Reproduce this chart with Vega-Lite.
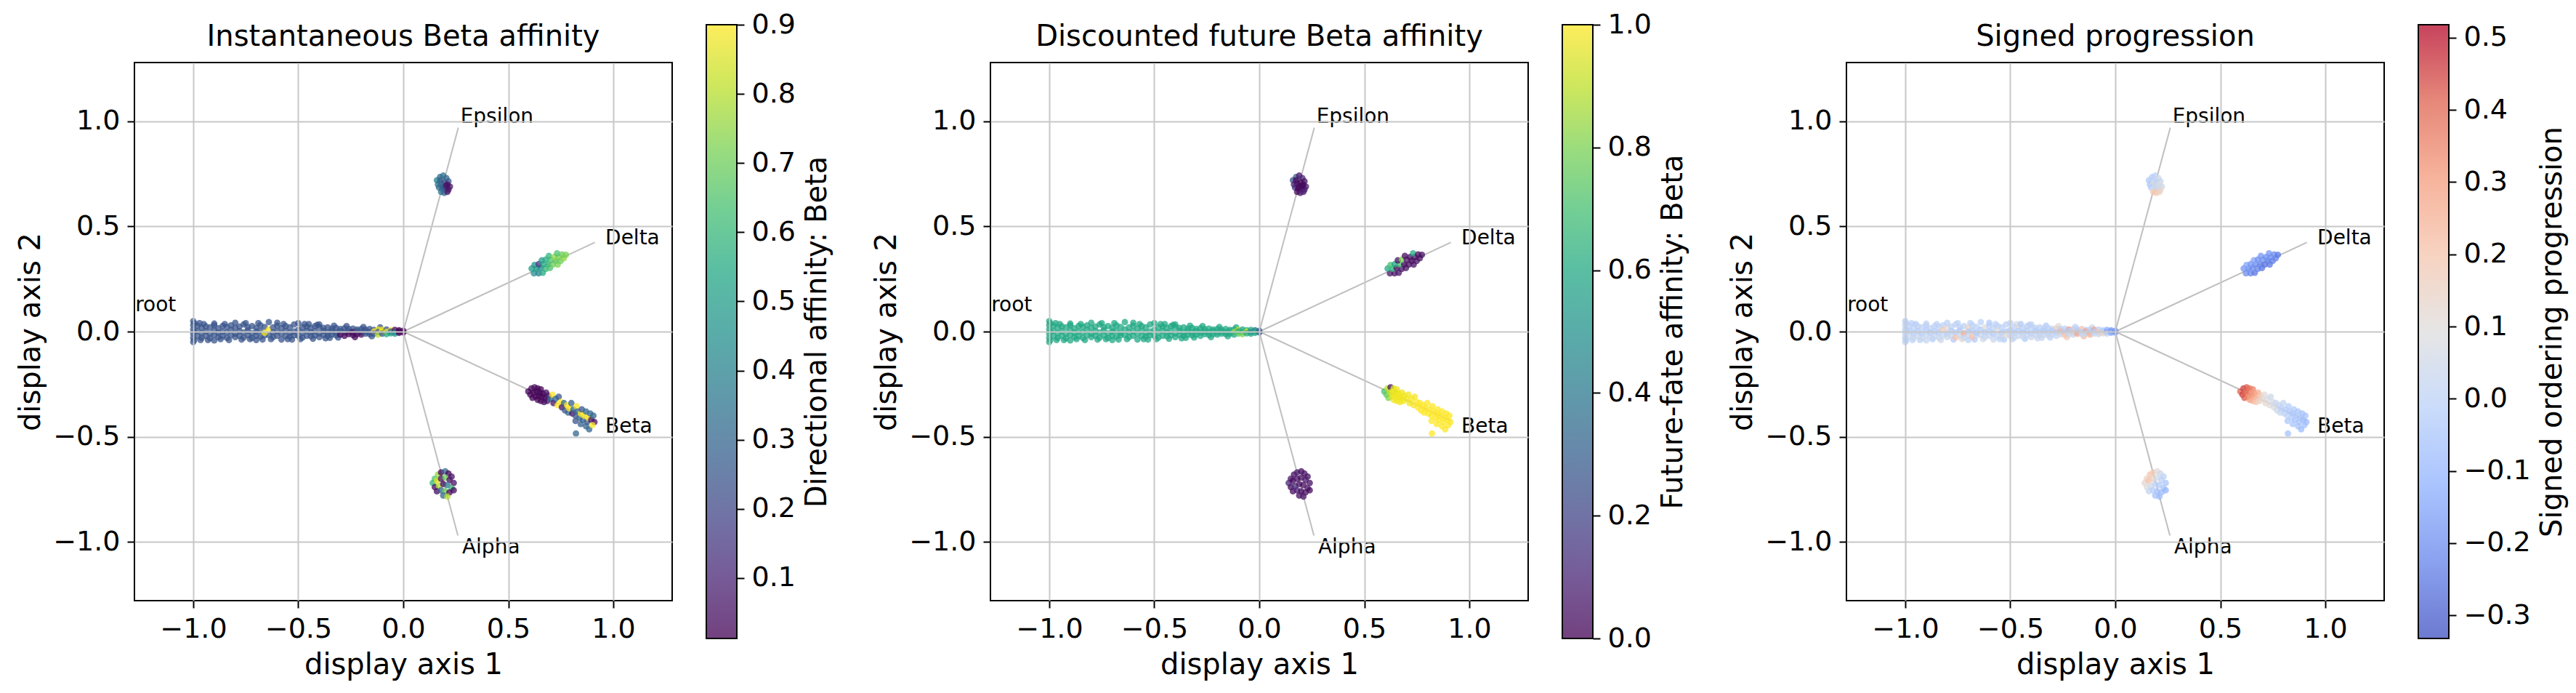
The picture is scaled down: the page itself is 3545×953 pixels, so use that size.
{
  "$schema": "https://vega.github.io/schema/vega-lite/v6.json",
  "background": "white",
  "padding": {"left": 21, "top": 15, "right": 10, "bottom": 5},
  "config": {
    "font": "DejaVu Sans",
    "view": {"stroke": null},
    "axis": {
      "labelFont": "DejaVu Sans", "labelFontSize": 38, "labelColor": "black",
      "tickColor": "black", "tickWidth": 2, "tickSize": 10, "labelPadding": 10,
      "titleFont": "DejaVu Sans", "titleFontSize": 40, "titleFontWeight": "normal",
      "titleColor": "black", "titlePadding": 10, "domain": false,
      "gridColor": "#c8c8c8", "gridWidth": 2, "labelFlush": false, "labelOverlap": false
    },
    "title": {"font": "DejaVu Sans", "fontSize": 40, "fontWeight": "normal", "color": "black", "offset": 15, "baseline": "alphabetic"}
  },
  "datasets": {
    "branches": [
      {"x0": 0, "y0": 0, "x1": 0.262, "y1": 0.97},
      {"x0": 0, "y0": 0, "x1": 0.912, "y1": 0.424},
      {"x0": 0, "y0": 0, "x1": 0.912, "y1": -0.424},
      {"x0": 0, "y0": 0, "x1": 0.26, "y1": -0.97}
    ],
    "nodes": [
      {"label": "root", "x": -1.276, "y": 0.096},
      {"label": "Epsilon", "x": 0.272, "y": 0.993},
      {"label": "Delta", "x": 0.962, "y": 0.415},
      {"label": "Beta", "x": 0.962, "y": -0.48},
      {"label": "Alpha", "x": 0.28, "y": -1.054}
    ],
    "cells": [
      {"x":-1.0,"y":0.05,"a":0.25,"f":0.6,"s":-0.02},
      {"x":-1.0,"y":0.03,"a":0.25,"f":0.6,"s":0},
      {"x":-1.0,"y":0.01,"a":0.25,"f":0.6,"s":-0.02},
      {"x":-1.0,"y":-0.01,"a":0.25,"f":0.6,"s":0},
      {"x":-1.0,"y":-0.03,"a":0.25,"f":0.6,"s":-0.02},
      {"x":-1.0,"y":-0.05,"a":0.25,"f":0.6,"s":0},
      {"x":-0.995,"y":0.04,"a":0.25,"f":0.6,"s":0},
      {"x":-0.995,"y":-0.04,"a":0.25,"f":0.6,"s":-0.02},
      {"x":-0.995,"y":0.0,"a":0.25,"f":0.6,"s":0.02},
      {"x":-0.97,"y":0.04,"a":0.25,"f":0.6,"s":0},
      {"x":-0.965,"y":-0.04,"a":0.25,"f":0.6,"s":0},
      {"x":-0.95,"y":0.036,"a":0.25,"f":0.6,"s":-0.03},
      {"x":-0.93,"y":-0.04,"a":0.25,"f":0.6,"s":0},
      {"x":-0.9,"y":0.038,"a":0.25,"f":0.6,"s":0.02},
      {"x":-0.87,"y":-0.036,"a":0.25,"f":0.6,"s":-0.03},
      {"x":-0.85,"y":0.036,"a":0.25,"f":0.6,"s":0},
      {"x":-0.83,"y":-0.04,"a":0.25,"f":0.6,"s":0.05},
      {"x":-0.77,"y":-0.038,"a":0.25,"f":0.6,"s":-0.03},
      {"x":-0.75,"y":0.04,"a":0.25,"f":0.6,"s":0},
      {"x":-0.73,"y":-0.036,"a":0.25,"f":0.6,"s":0.12},
      {"x":-0.69,"y":0.04,"a":0.25,"f":0.6,"s":0},
      {"x":-0.67,"y":-0.038,"a":0.25,"f":0.6,"s":-0.03},
      {"x":-0.63,"y":-0.036,"a":0.25,"f":0.6,"s":0.05},
      {"x":-0.57,"y":0.036,"a":0.25,"f":0.6,"s":0},
      {"x":-0.53,"y":-0.038,"a":0.25,"f":0.6,"s":-0.03},
      {"x":-0.49,"y":-0.036,"a":0.25,"f":0.6,"s":0},
      {"x":-0.47,"y":0.036,"a":0.25,"f":0.6,"s":0.08},
      {"x":-0.43,"y":-0.034,"a":0.25,"f":0.6,"s":-0.03},
      {"x":-0.41,"y":0.032,"a":0.25,"f":0.6,"s":0},
      {"x":-0.37,"y":-0.032,"a":0.25,"f":0.6,"s":0.03},
      {"x":-0.33,"y":0.028,"a":0.25,"f":0.6,"s":-0.03},
      {"x":-0.31,"y":-0.028,"a":0.25,"f":0.6,"s":0},
      {"x":-0.27,"y":0.026,"a":0.25,"f":0.6,"s":0.1},
      {"x":-0.23,"y":-0.026,"a":0.03,"f":0.6,"s":0.18},
      {"x":-0.19,"y":0.022,"a":0.25,"f":0.6,"s":0},
      {"x":-0.15,"y":-0.022,"a":0.25,"f":0.6,"s":0.22},
      {"x":-0.11,"y":0.02,"a":0.25,"f":0.6,"s":0.05},
      {"x":-0.98,"y":0.028,"a":0.25,"f":0.6,"s":0},
      {"x":-0.98,"y":0.004,"a":0.25,"f":0.6,"s":-0.03},
      {"x":-0.98,"y":-0.022,"a":0.25,"f":0.6,"s":0.03},
      {"x":-0.96,"y":0.018,"a":0.25,"f":0.6,"s":0},
      {"x":-0.96,"y":-0.008,"a":0.25,"f":0.6,"s":-0.03},
      {"x":-0.96,"y":-0.03,"a":0.25,"f":0.6,"s":0.03},
      {"x":-0.94,"y":0.025,"a":0.25,"f":0.6,"s":0},
      {"x":-0.94,"y":0.002,"a":0.25,"f":0.6,"s":-0.03},
      {"x":-0.94,"y":-0.02,"a":0.25,"f":0.6,"s":0.03},
      {"x":-0.92,"y":0.02,"a":0.25,"f":0.6,"s":0},
      {"x":-0.92,"y":-0.01,"a":0.25,"f":0.6,"s":-0.03},
      {"x":-0.92,"y":-0.032,"a":0.25,"f":0.6,"s":0.03},
      {"x":-0.9,"y":0.03,"a":0.25,"f":0.6,"s":0},
      {"x":-0.9,"y":0.006,"a":0.25,"f":0.6,"s":-0.03},
      {"x":-0.9,"y":-0.016,"a":0.25,"f":0.6,"s":0.03},
      {"x":-0.9,"y":-0.042,"a":0.25,"f":0.6,"s":0.03},
      {"x":-0.88,"y":0.016,"a":0.25,"f":0.6,"s":0},
      {"x":-0.88,"y":-0.006,"a":0.25,"f":0.6,"s":-0.03},
      {"x":-0.88,"y":-0.026,"a":0.25,"f":0.6,"s":0.03},
      {"x":-0.86,"y":0.026,"a":0.25,"f":0.6,"s":0},
      {"x":-0.86,"y":0.0,"a":0.25,"f":0.6,"s":-0.03},
      {"x":-0.86,"y":-0.022,"a":0.25,"f":0.6,"s":0.03},
      {"x":-0.84,"y":0.022,"a":0.25,"f":0.6,"s":0},
      {"x":-0.84,"y":-0.004,"a":0.25,"f":0.6,"s":-0.03},
      {"x":-0.84,"y":-0.03,"a":0.25,"f":0.6,"s":0.03},
      {"x":-0.82,"y":0.03,"a":0.25,"f":0.6,"s":0},
      {"x":-0.82,"y":0.008,"a":0.25,"f":0.6,"s":0.18},
      {"x":-0.82,"y":-0.018,"a":0.25,"f":0.6,"s":0.03},
      {"x":-0.8,"y":0.018,"a":0.25,"f":0.6,"s":0.12},
      {"x":-0.8,"y":-0.01,"a":0.25,"f":0.6,"s":-0.03},
      {"x":-0.8,"y":-0.026,"a":0.25,"f":0.6,"s":0.03},
      {"x":-0.8,"y":0.042,"a":0.25,"f":0.6,"s":0},
      {"x":-0.78,"y":0.024,"a":0.25,"f":0.6,"s":0},
      {"x":-0.78,"y":0.002,"a":0.25,"f":0.6,"s":-0.03},
      {"x":-0.78,"y":-0.02,"a":0.25,"f":0.6,"s":0.03},
      {"x":-0.76,"y":0.034,"a":0.25,"f":0.6,"s":0},
      {"x":-0.76,"y":-0.004,"a":0.25,"f":0.6,"s":-0.03},
      {"x":-0.76,"y":-0.028,"a":0.25,"f":0.6,"s":0.2},
      {"x":-0.74,"y":0.02,"a":0.25,"f":0.6,"s":0},
      {"x":-0.74,"y":0.006,"a":0.25,"f":0.6,"s":-0.03},
      {"x":-0.74,"y":-0.018,"a":0.25,"f":0.6,"s":0.03},
      {"x":-0.72,"y":0.026,"a":0.25,"f":0.6,"s":0},
      {"x":-0.72,"y":-0.008,"a":0.25,"f":0.6,"s":0.28},
      {"x":-0.72,"y":-0.03,"a":0.25,"f":0.6,"s":0.03},
      {"x":-0.7,"y":0.018,"a":0.25,"f":0.6,"s":0.15},
      {"x":-0.7,"y":0.0,"a":0.25,"f":0.6,"s":-0.03},
      {"x":-0.7,"y":-0.02,"a":0.25,"f":0.6,"s":0.03},
      {"x":-0.7,"y":-0.04,"a":0.25,"f":0.6,"s":0},
      {"x":-0.68,"y":0.03,"a":0.25,"f":0.6,"s":0},
      {"x":-0.68,"y":0.004,"a":0.25,"f":0.6,"s":-0.03},
      {"x":-0.68,"y":-0.024,"a":0.25,"f":0.6,"s":0.22},
      {"x":-0.66,"y":0.022,"a":0.25,"f":0.6,"s":0},
      {"x":-0.66,"y":-0.018,"a":0.25,"f":0.6,"s":0.03},
      {"x":-0.64,"y":0.045,"a":0.25,"f":0.6,"s":0},
      {"x":-0.64,"y":-0.016,"a":0.25,"f":0.6,"s":0.03},
      {"x":-0.66,"y":-0.006,"a":0.88,"f":0.6,"s":-0.03},
      {"x":-0.64,"y":0.01,"a":0.9,"f":0.6,"s":-0.03},
      {"x":-0.62,"y":0.02,"a":0.25,"f":0.6,"s":0.1},
      {"x":-0.62,"y":-0.004,"a":0.25,"f":0.6,"s":-0.03},
      {"x":-0.62,"y":-0.026,"a":0.25,"f":0.6,"s":0.03},
      {"x":-0.6,"y":0.028,"a":0.25,"f":0.6,"s":0},
      {"x":-0.6,"y":0.002,"a":0.25,"f":0.6,"s":-0.03},
      {"x":-0.6,"y":-0.02,"a":0.25,"f":0.6,"s":0.03},
      {"x":-0.6,"y":0.042,"a":0.25,"f":0.6,"s":-0.03},
      {"x":-0.58,"y":0.016,"a":0.25,"f":0.6,"s":0},
      {"x":-0.58,"y":-0.01,"a":0.25,"f":0.6,"s":-0.03},
      {"x":-0.58,"y":-0.038,"a":0.25,"f":0.6,"s":0.03},
      {"x":-0.56,"y":0.026,"a":0.25,"f":0.6,"s":0},
      {"x":-0.56,"y":0.004,"a":0.25,"f":0.6,"s":0.08},
      {"x":-0.56,"y":-0.022,"a":0.25,"f":0.6,"s":0.03},
      {"x":-0.55,"y":-0.036,"a":0.25,"f":0.6,"s":0},
      {"x":-0.54,"y":0.02,"a":0.25,"f":0.6,"s":0},
      {"x":-0.54,"y":-0.006,"a":0.25,"f":0.6,"s":-0.03},
      {"x":-0.54,"y":-0.024,"a":0.25,"f":0.6,"s":0.03},
      {"x":-0.52,"y":0.034,"a":0.25,"f":0.6,"s":0},
      {"x":-0.52,"y":0.0,"a":0.25,"f":0.6,"s":-0.03},
      {"x":-0.52,"y":-0.018,"a":0.25,"f":0.6,"s":0.1},
      {"x":-0.5,"y":0.04,"a":0.25,"f":0.6,"s":0},
      {"x":-0.5,"y":0.008,"a":0.25,"f":0.6,"s":-0.03},
      {"x":-0.5,"y":-0.02,"a":0.25,"f":0.6,"s":0.03},
      {"x":-0.48,"y":0.02,"a":0.25,"f":0.6,"s":0},
      {"x":-0.48,"y":-0.006,"a":0.25,"f":0.6,"s":-0.03},
      {"x":-0.48,"y":-0.028,"a":0.25,"f":0.6,"s":0.03},
      {"x":-0.46,"y":0.024,"a":0.25,"f":0.6,"s":0.1},
      {"x":-0.46,"y":0.004,"a":0.25,"f":0.6,"s":-0.03},
      {"x":-0.46,"y":-0.02,"a":0.25,"f":0.6,"s":0.03},
      {"x":-0.45,"y":0.036,"a":0.25,"f":0.6,"s":-0.03},
      {"x":-0.44,"y":0.018,"a":0.25,"f":0.6,"s":0},
      {"x":-0.44,"y":-0.004,"a":0.25,"f":0.6,"s":-0.03},
      {"x":-0.44,"y":-0.022,"a":0.25,"f":0.6,"s":0.03},
      {"x":-0.42,"y":0.026,"a":0.25,"f":0.6,"s":0},
      {"x":-0.42,"y":0.002,"a":0.25,"f":0.6,"s":-0.03},
      {"x":-0.42,"y":-0.018,"a":0.25,"f":0.6,"s":0.03},
      {"x":-0.4,"y":0.022,"a":0.25,"f":0.6,"s":0},
      {"x":-0.4,"y":-0.008,"a":0.25,"f":0.6,"s":-0.03},
      {"x":-0.4,"y":-0.026,"a":0.25,"f":0.6,"s":0.03},
      {"x":-0.4,"y":0.034,"a":0.25,"f":0.6,"s":0},
      {"x":-0.38,"y":0.018,"a":0.25,"f":0.6,"s":0},
      {"x":-0.38,"y":0.004,"a":0.25,"f":0.6,"s":-0.03},
      {"x":-0.38,"y":-0.016,"a":0.25,"f":0.6,"s":0.03},
      {"x":-0.36,"y":0.02,"a":0.25,"f":0.6,"s":0},
      {"x":-0.36,"y":-0.004,"a":0.25,"f":0.6,"s":-0.03},
      {"x":-0.36,"y":-0.02,"a":0.25,"f":0.6,"s":0.03},
      {"x":-0.35,"y":-0.03,"a":0.25,"f":0.6,"s":0.03},
      {"x":-0.34,"y":0.014,"a":0.25,"f":0.6,"s":0},
      {"x":-0.34,"y":0.002,"a":0.25,"f":0.6,"s":-0.03},
      {"x":-0.34,"y":-0.014,"a":0.25,"f":0.6,"s":0.03},
      {"x":-0.32,"y":0.018,"a":0.25,"f":0.6,"s":0},
      {"x":-0.32,"y":-0.004,"a":0.25,"f":0.6,"s":-0.03},
      {"x":-0.32,"y":-0.018,"a":0.25,"f":0.6,"s":0.03},
      {"x":-0.3,"y":0.012,"a":0.25,"f":0.6,"s":0},
      {"x":-0.3,"y":0.002,"a":0.25,"f":0.6,"s":-0.03},
      {"x":-0.3,"y":-0.014,"a":0.03,"f":0.6,"s":0.03},
      {"x":-0.28,"y":0.016,"a":0.25,"f":0.6,"s":0.15},
      {"x":-0.28,"y":-0.004,"a":0.25,"f":0.6,"s":-0.03},
      {"x":-0.28,"y":-0.02,"a":0.03,"f":0.6,"s":0.03},
      {"x":-0.26,"y":0.012,"a":0.25,"f":0.6,"s":0},
      {"x":-0.26,"y":0.0,"a":0.25,"f":0.6,"s":0.25},
      {"x":-0.26,"y":-0.012,"a":0.02,"f":0.6,"s":0.03},
      {"x":-0.24,"y":0.014,"a":0.25,"f":0.6,"s":0},
      {"x":-0.24,"y":-0.002,"a":0.05,"f":0.6,"s":-0.03},
      {"x":-0.24,"y":-0.016,"a":0.03,"f":0.6,"s":0.2},
      {"x":-0.22,"y":0.01,"a":0.25,"f":0.6,"s":0.3},
      {"x":-0.22,"y":0.002,"a":0.25,"f":0.6,"s":-0.03},
      {"x":-0.22,"y":-0.012,"a":0.03,"f":0.6,"s":0.03},
      {"x":-0.2,"y":0.012,"a":0.25,"f":0.6,"s":0},
      {"x":-0.2,"y":-0.004,"a":0.25,"f":0.6,"s":0.22},
      {"x":-0.2,"y":-0.014,"a":0.04,"f":0.6,"s":0.03},
      {"x":-0.18,"y":0.01,"a":0.25,"f":0.6,"s":0},
      {"x":-0.18,"y":0.0,"a":0.25,"f":0.6,"s":-0.03},
      {"x":-0.18,"y":-0.01,"a":0.25,"f":0.6,"s":0.28},
      {"x":-0.16,"y":0.012,"a":0.25,"f":0.6,"s":0.2},
      {"x":-0.16,"y":-0.002,"a":0.25,"f":0.6,"s":-0.03},
      {"x":-0.16,"y":-0.012,"a":0.25,"f":0.6,"s":0.03},
      {"x":-0.14,"y":0.008,"a":0.25,"f":0.6,"s":0},
      {"x":-0.14,"y":0.0,"a":0.9,"f":0.6,"s":0.3},
      {"x":-0.14,"y":-0.01,"a":0.25,"f":0.6,"s":0.03},
      {"x":-0.12,"y":0.01,"a":0.88,"f":0.6,"s":0},
      {"x":-0.12,"y":-0.002,"a":0.25,"f":0.85,"s":-0.03},
      {"x":-0.12,"y":-0.014,"a":0.8,"f":0.6,"s":0.25},
      {"x":-0.1,"y":0.008,"a":0.9,"f":0.9,"s":0.3},
      {"x":-0.1,"y":0.0,"a":0.85,"f":0.6,"s":-0.03},
      {"x":-0.1,"y":-0.01,"a":0.25,"f":0.75,"s":0.03},
      {"x":-0.08,"y":0.01,"a":0.25,"f":0.6,"s":0},
      {"x":-0.08,"y":-0.002,"a":0.9,"f":0.6,"s":0.2},
      {"x":-0.08,"y":-0.012,"a":0.55,"f":0.8,"s":0.03},
      {"x":-0.06,"y":0.006,"a":0.9,"f":0.6,"s":0},
      {"x":-0.06,"y":0.0,"a":0.25,"f":0.92,"s":-0.03},
      {"x":-0.06,"y":-0.008,"a":0.5,"f":0.6,"s":0.15},
      {"x":-0.04,"y":0.008,"a":0.02,"f":0.6,"s":-0.12},
      {"x":-0.04,"y":-0.002,"a":0.25,"f":0.45,"s":-0.15},
      {"x":-0.04,"y":-0.01,"a":0.5,"f":0.6,"s":0.03},
      {"x":-0.02,"y":0.006,"a":0.02,"f":0.35,"s":-0.15},
      {"x":-0.02,"y":0.0,"a":0.02,"f":0.6,"s":-0.18},
      {"x":-0.02,"y":-0.006,"a":0.02,"f":0.6,"s":-0.12},
      {"x":0.0,"y":0.004,"a":0.02,"f":0.3,"s":-0.18},
      {"x":0.0,"y":-0.004,"a":0.02,"f":0.3,"s":-0.18},

      {"x":0.175,"y":0.735,"a":0.3,"f":0.3,"s":-0.02},
      {"x":0.19,"y":0.742,"a":0.35,"f":0.05,"s":0},
      {"x":0.205,"y":0.73,"a":0.3,"f":0.1,"s":0.05},
      {"x":0.16,"y":0.72,"a":0.4,"f":0.25,"s":-0.03},
      {"x":0.175,"y":0.72,"a":0.28,"f":0.02,"s":0},
      {"x":0.215,"y":0.715,"a":0.25,"f":0.04,"s":0.02},
      {"x":0.165,"y":0.7,"a":0.35,"f":0.08,"s":-0.05},
      {"x":0.18,"y":0.705,"a":0.3,"f":0.03,"s":0.08},
      {"x":0.195,"y":0.71,"a":0.25,"f":0.02,"s":0},
      {"x":0.21,"y":0.7,"a":0.06,"f":0.03,"s":0.1},
      {"x":0.222,"y":0.69,"a":0.04,"f":0.06,"s":0.05},
      {"x":0.17,"y":0.685,"a":0.32,"f":0.12,"s":-0.02},
      {"x":0.185,"y":0.68,"a":0.3,"f":0.02,"s":0.1},
      {"x":0.2,"y":0.685,"a":0.08,"f":0.03,"s":0},
      {"x":0.215,"y":0.675,"a":0.05,"f":0.05,"s":0.12},
      {"x":0.18,"y":0.665,"a":0.35,"f":0.02,"s":0.18},
      {"x":0.195,"y":0.66,"a":0.3,"f":0.04,"s":0.2},
      {"x":0.21,"y":0.665,"a":0.06,"f":0.08,"s":0.15},
      {"x":0.19,"y":0.69,"a":0.27,"f":0.02,"s":0.03},
      {"x":0.205,"y":0.695,"a":0.05,"f":0.02,"s":0.06},

      {"x":0.622,"y":0.277,"a":0.45,"f":0.05,"s":-0.2},
      {"x":0.611,"y":0.3,"a":0.5,"f":0.6,"s":-0.18},
      {"x":0.644,"y":0.277,"a":0.4,"f":0.04,"s":-0.22},
      {"x":0.634,"y":0.299,"a":0.5,"f":0.65,"s":-0.2},
      {"x":0.625,"y":0.317,"a":0.45,"f":0.7,"s":-0.15},
      {"x":0.664,"y":0.28,"a":0.55,"f":0.05,"s":-0.25},
      {"x":0.654,"y":0.303,"a":0.45,"f":0.03,"s":-0.2},
      {"x":0.645,"y":0.321,"a":0.15,"f":0.6,"s":-0.18},
      {"x":0.678,"y":0.298,"a":0.6,"f":0.04,"s":-0.22},
      {"x":0.668,"y":0.32,"a":0.55,"f":0.7,"s":-0.2},
      {"x":0.659,"y":0.339,"a":0.5,"f":0.03,"s":-0.15},
      {"x":0.698,"y":0.302,"a":0.65,"f":0.05,"s":-0.25},
      {"x":0.69,"y":0.32,"a":0.6,"f":0.02,"s":-0.22},
      {"x":0.679,"y":0.343,"a":0.55,"f":0.8,"s":-0.2},
      {"x":0.712,"y":0.319,"a":0.7,"f":0.03,"s":-0.26},
      {"x":0.702,"y":0.342,"a":0.65,"f":0.05,"s":-0.2},
      {"x":0.693,"y":0.36,"a":0.6,"f":0.02,"s":-0.18},
      {"x":0.735,"y":0.319,"a":0.72,"f":0.04,"s":-0.25},
      {"x":0.726,"y":0.337,"a":0.68,"f":0.02,"s":-0.22},
      {"x":0.718,"y":0.355,"a":0.75,"f":0.03,"s":-0.2},
      {"x":0.749,"y":0.336,"a":0.7,"f":0.05,"s":-0.24},
      {"x":0.74,"y":0.354,"a":0.72,"f":0.03,"s":-0.2},
      {"x":0.732,"y":0.372,"a":0.65,"f":0.6,"s":-0.18},
      {"x":0.764,"y":0.349,"a":0.75,"f":0.04,"s":-0.22},
      {"x":0.756,"y":0.367,"a":0.7,"f":0.02,"s":-0.2},
      {"x":0.774,"y":0.365,"a":0.72,"f":0.03,"s":-0.24},

      {"x":0.595,"y":-0.285,"a":0.02,"f":0.7,"s":0.4},
      {"x":0.61,"y":-0.27,"a":0.02,"f":0.9,"s":0.45},
      {"x":0.625,"y":-0.265,"a":0.03,"f":0.05,"s":0.42},
      {"x":0.64,"y":-0.27,"a":0.02,"f":0.95,"s":0.38},
      {"x":0.655,"y":-0.275,"a":0.02,"f":0.98,"s":0.35},
      {"x":0.605,"y":-0.3,"a":0.02,"f":0.75,"s":0.45},
      {"x":0.62,"y":-0.29,"a":0.02,"f":0.9,"s":0.4},
      {"x":0.635,"y":-0.285,"a":0.02,"f":0.98,"s":0.38},
      {"x":0.65,"y":-0.29,"a":0.03,"f":0.95,"s":0.3},
      {"x":0.665,"y":-0.295,"a":0.02,"f":0.98,"s":0.3},
      {"x":0.68,"y":-0.29,"a":0.05,"f":0.98,"s":0.25},
      {"x":0.615,"y":-0.315,"a":0.02,"f":0.8,"s":0.42},
      {"x":0.63,"y":-0.31,"a":0.02,"f":0.95,"s":0.35},
      {"x":0.645,"y":-0.305,"a":0.02,"f":0.98,"s":0.32},
      {"x":0.66,"y":-0.31,"a":0.02,"f":0.98,"s":0.28},
      {"x":0.675,"y":-0.315,"a":0.03,"f":0.98,"s":0.22},
      {"x":0.69,"y":-0.305,"a":0.05,"f":0.98,"s":0.2},
      {"x":0.64,"y":-0.325,"a":0.02,"f":0.98,"s":0.3},
      {"x":0.655,"y":-0.33,"a":0.02,"f":0.98,"s":0.25},
      {"x":0.67,"y":-0.335,"a":0.03,"f":0.98,"s":0.2},
      {"x":0.685,"y":-0.33,"a":0.05,"f":0.98,"s":0.15},
      {"x":0.7,"y":-0.32,"a":0.3,"f":0.98,"s":0.12},
      {"x":0.71,"y":-0.3,"a":0.9,"f":0.98,"s":0.1},
      {"x":0.715,"y":-0.34,"a":0.05,"f":0.98,"s":0.12},
      {"x":0.725,"y":-0.32,"a":0.3,"f":0.99,"s":0.08},
      {"x":0.735,"y":-0.35,"a":0.9,"f":0.99,"s":0.1},
      {"x":0.74,"y":-0.31,"a":0.25,"f":0.99,"s":0.05},
      {"x":0.75,"y":-0.335,"a":0.9,"f":1,"s":0.06},
      {"x":0.755,"y":-0.36,"a":0.05,"f":1,"s":0.08},
      {"x":0.765,"y":-0.34,"a":0.3,"f":1,"s":0.04},
      {"x":0.77,"y":-0.375,"a":0.25,"f":1,"s":0.05},
      {"x":0.78,"y":-0.35,"a":0.9,"f":1,"s":0.02},
      {"x":0.785,"y":-0.385,"a":0.3,"f":1,"s":0.03},
      {"x":0.79,"y":-0.365,"a":0.9,"f":1,"s":0},
      {"x":0.8,"y":-0.34,"a":0.28,"f":1,"s":0.02},
      {"x":0.805,"y":-0.39,"a":0.05,"f":1,"s":0},
      {"x":0.81,"y":-0.37,"a":0.3,"f":1,"s":-0.02},
      {"x":0.82,"y":-0.4,"a":0.25,"f":1,"s":0},
      {"x":0.825,"y":-0.355,"a":0.9,"f":1,"s":-0.02},
      {"x":0.83,"y":-0.38,"a":0.3,"f":1,"s":-0.03},
      {"x":0.84,"y":-0.41,"a":0.3,"f":1,"s":-0.02},
      {"x":0.845,"y":-0.39,"a":0.9,"f":1,"s":-0.04},
      {"x":0.85,"y":-0.37,"a":0.25,"f":1,"s":-0.03},
      {"x":0.855,"y":-0.42,"a":0.28,"f":1,"s":-0.05},
      {"x":0.86,"y":-0.4,"a":0.9,"f":1,"s":-0.04},
      {"x":0.87,"y":-0.38,"a":0.3,"f":1,"s":-0.05},
      {"x":0.875,"y":-0.43,"a":0.25,"f":1,"s":-0.06},
      {"x":0.88,"y":-0.41,"a":0.9,"f":1,"s":-0.05},
      {"x":0.89,"y":-0.39,"a":0.3,"f":1,"s":-0.06},
      {"x":0.895,"y":-0.42,"a":0.05,"f":1,"s":-0.07},
      {"x":0.905,"y":-0.4,"a":0.3,"f":1,"s":-0.06},
      {"x":0.91,"y":-0.43,"a":0.05,"f":1,"s":-0.08},
      {"x":0.87,"y":-0.45,"a":0.3,"f":1,"s":-0.06},
      {"x":0.845,"y":-0.44,"a":0.28,"f":1,"s":-0.05},
      {"x":0.885,"y":-0.465,"a":0.3,"f":1,"s":-0.08},
      {"x":0.82,"y":-0.425,"a":0.25,"f":1,"s":-0.04},
      {"x":0.9,"y":-0.445,"a":0.9,"f":1,"s":-0.07},
      {"x":0.822,"y":-0.485,"a":0.3,"f":1,"s":-0.06},

      {"x":0.15,"y":-0.7,"a":0.65,"f":0.05,"s":0.15},
      {"x":0.165,"y":-0.68,"a":0.75,"f":0.03,"s":0.2},
      {"x":0.18,"y":-0.67,"a":0.02,"f":0.08,"s":0.18},
      {"x":0.2,"y":-0.665,"a":0.3,"f":0.02,"s":0.1},
      {"x":0.215,"y":-0.675,"a":0.02,"f":0.05,"s":0.05},
      {"x":0.23,"y":-0.69,"a":0.05,"f":0.03,"s":0},
      {"x":0.14,"y":-0.72,"a":0.6,"f":0.1,"s":0.12},
      {"x":0.16,"y":-0.71,"a":0.85,"f":0.02,"s":0.2},
      {"x":0.18,"y":-0.7,"a":0.03,"f":0.04,"s":0.15},
      {"x":0.2,"y":-0.695,"a":0.7,"f":0.02,"s":0.05},
      {"x":0.22,"y":-0.705,"a":0.04,"f":0.06,"s":0},
      {"x":0.24,"y":-0.72,"a":0.05,"f":0.03,"s":-0.05},
      {"x":0.15,"y":-0.74,"a":0.03,"f":0.02,"s":0.1},
      {"x":0.17,"y":-0.735,"a":0.8,"f":0.12,"s":0.05},
      {"x":0.19,"y":-0.725,"a":0.02,"f":0.03,"s":0},
      {"x":0.21,"y":-0.73,"a":0.35,"f":0.02,"s":-0.03},
      {"x":0.23,"y":-0.745,"a":0.6,"f":0.05,"s":-0.05},
      {"x":0.16,"y":-0.76,"a":0.04,"f":0.03,"s":0.02},
      {"x":0.18,"y":-0.755,"a":0.3,"f":0.08,"s":-0.02},
      {"x":0.2,"y":-0.76,"a":0.7,"f":0.02,"s":-0.05},
      {"x":0.22,"y":-0.765,"a":0.02,"f":0.04,"s":-0.08},
      {"x":0.19,"y":-0.78,"a":0.3,"f":0.03,"s":-0.06},
      {"x":0.21,"y":-0.785,"a":0.8,"f":0.05,"s":-0.08},
      {"x":0.24,"y":-0.755,"a":0.03,"f":0.02,"s":-0.1}
    ]
  },
  "spacing": 54,
  "resolve": {"scale": {"color": "independent"}},
  "hconcat": [
    {
      "bounds": "flush", "center": true, "spacing": 47,
      "hconcat": [
        {
          "width": 740, "height": 740,
          "view": {"stroke": "black", "strokeWidth": 2},
          "title": "Instantaneous Beta affinity",
          "layer": [
            {
              "data": {"name": "branches"},
              "mark": {"type": "rule", "color": "#bfbfbf", "strokeWidth": 2},
              "encoding": {
                "x": {"field": "x0", "type": "quantitative", "title": "display axis 1", "scale": {"domain": [-1.28, 1.28], "nice": false, "zero": false}, "axis": {"values": [-1, -0.5, 0, 0.5, 1], "format": ".1f", "zindex": 1}},
                "y": {"field": "y0", "type": "quantitative", "title": "display axis 2", "scale": {"domain": [-1.28, 1.28], "nice": false, "zero": false}, "axis": {"values": [-1, -0.5, 0, 0.5, 1], "format": ".1f", "zindex": 1}},
                "x2": {"field": "x1"},
                "y2": {"field": "y1"}
              }
            },
            {
              "data": {"name": "cells"},
              "mark": {"type": "circle", "size": 78, "opacity": 0.75},
              "encoding": {
                "x": {"field": "x", "type": "quantitative", "title": "display axis 1"},
                "y": {"field": "y", "type": "quantitative", "title": "display axis 2"},
                "color": {"field": "a", "type": "quantitative", "scale": {"scheme": "viridis", "domain": [0.0126, 0.9]}, "legend": null}
              }
            },
            {
              "data": {"name": "nodes"},
              "mark": {"type": "text", "align": "left", "baseline": "alphabetic", "fontSize": 28, "font": "DejaVu Sans", "color": "black"},
              "encoding": {
                "x": {"field": "x", "type": "quantitative", "title": "display axis 1"},
                "y": {"field": "y", "type": "quantitative", "title": "display axis 2"},
                "text": {"field": "label"}
              }
            }
          ]
        },
        {
          "width": 42, "height": 844,
          "data": {"values": [{"lo": 0.0126, "hi": 0.9}]},
          "mark": {
            "type": "rect", "stroke": "black", "strokeWidth": 2, "fillOpacity": 0.75,
            "fill": {"gradient": "linear", "x1": 0, "y1": 1, "x2": 0, "y2": 0, "stops": [
              {"offset": 0, "color": "#440154"}, {"offset": 0.1, "color": "#482475"},
              {"offset": 0.2, "color": "#414487"}, {"offset": 0.3, "color": "#355f8d"},
              {"offset": 0.4, "color": "#2a788e"}, {"offset": 0.5, "color": "#21918c"},
              {"offset": 0.6, "color": "#22a884"}, {"offset": 0.7, "color": "#44bf70"},
              {"offset": 0.8, "color": "#7ad151"}, {"offset": 0.9, "color": "#bddf26"},
              {"offset": 1, "color": "#fde725"}]}
          },
          "encoding": {
            "y": {"field": "lo", "type": "quantitative", "scale": {"domain": [0.0126, 0.9], "nice": false, "zero": false},
                  "axis": {"orient": "right", "grid": false, "values": [0.1, 0.2, 0.3, 0.4, 0.5, 0.6, 0.7, 0.8, 0.9], "format": ".1f",
                           "title": "Directional affinity: Beta", "titleAngle": 270, "titleBaseline": "top"}},
            "y2": {"field": "hi"}
          }
        }
      ]
    },
    {
      "bounds": "flush", "center": true, "spacing": 47,
      "hconcat": [
        {
          "width": 740, "height": 740,
          "view": {"stroke": "black", "strokeWidth": 2},
          "title": "Discounted future Beta affinity",
          "layer": [
            {
              "data": {"name": "branches"},
              "mark": {"type": "rule", "color": "#bfbfbf", "strokeWidth": 2},
              "encoding": {
                "x": {"field": "x0", "type": "quantitative", "title": "display axis 1", "scale": {"domain": [-1.28, 1.28], "nice": false, "zero": false}, "axis": {"values": [-1, -0.5, 0, 0.5, 1], "format": ".1f", "zindex": 1}},
                "y": {"field": "y0", "type": "quantitative", "title": "display axis 2", "scale": {"domain": [-1.28, 1.28], "nice": false, "zero": false}, "axis": {"values": [-1, -0.5, 0, 0.5, 1], "format": ".1f", "zindex": 1}},
                "x2": {"field": "x1"},
                "y2": {"field": "y1"}
              }
            },
            {
              "data": {"name": "cells"},
              "mark": {"type": "circle", "size": 78, "opacity": 0.75},
              "encoding": {
                "x": {"field": "x", "type": "quantitative", "title": "display axis 1"},
                "y": {"field": "y", "type": "quantitative", "title": "display axis 2"},
                "color": {"field": "f", "type": "quantitative", "scale": {"scheme": "viridis", "domain": [0, 1]}, "legend": null}
              }
            },
            {
              "data": {"name": "nodes"},
              "mark": {"type": "text", "align": "left", "baseline": "alphabetic", "fontSize": 28, "font": "DejaVu Sans", "color": "black"},
              "encoding": {
                "x": {"field": "x", "type": "quantitative", "title": "display axis 1"},
                "y": {"field": "y", "type": "quantitative", "title": "display axis 2"},
                "text": {"field": "label"}
              }
            }
          ]
        },
        {
          "width": 42, "height": 844,
          "data": {"values": [{"lo": 0, "hi": 1}]},
          "mark": {
            "type": "rect", "stroke": "black", "strokeWidth": 2, "fillOpacity": 0.75,
            "fill": {"gradient": "linear", "x1": 0, "y1": 1, "x2": 0, "y2": 0, "stops": [
              {"offset": 0, "color": "#440154"}, {"offset": 0.1, "color": "#482475"},
              {"offset": 0.2, "color": "#414487"}, {"offset": 0.3, "color": "#355f8d"},
              {"offset": 0.4, "color": "#2a788e"}, {"offset": 0.5, "color": "#21918c"},
              {"offset": 0.6, "color": "#22a884"}, {"offset": 0.7, "color": "#44bf70"},
              {"offset": 0.8, "color": "#7ad151"}, {"offset": 0.9, "color": "#bddf26"},
              {"offset": 1, "color": "#fde725"}]}
          },
          "encoding": {
            "y": {"field": "lo", "type": "quantitative", "scale": {"domain": [0, 1], "nice": false, "zero": false},
                  "axis": {"orient": "right", "grid": false, "values": [0, 0.2, 0.4, 0.6, 0.8, 1], "format": ".1f",
                           "title": "Future-fate affinity: Beta", "titleAngle": 270, "titleBaseline": "top"}},
            "y2": {"field": "hi"}
          }
        }
      ]
    },
    {
      "bounds": "flush", "center": true, "spacing": 47,
      "hconcat": [
        {
          "width": 740, "height": 740,
          "view": {"stroke": "black", "strokeWidth": 2},
          "title": "Signed progression",
          "layer": [
            {
              "data": {"name": "branches"},
              "mark": {"type": "rule", "color": "#bfbfbf", "strokeWidth": 2},
              "encoding": {
                "x": {"field": "x0", "type": "quantitative", "title": "display axis 1", "scale": {"domain": [-1.28, 1.28], "nice": false, "zero": false}, "axis": {"values": [-1, -0.5, 0, 0.5, 1], "format": ".1f", "zindex": 1}},
                "y": {"field": "y0", "type": "quantitative", "title": "display axis 2", "scale": {"domain": [-1.28, 1.28], "nice": false, "zero": false}, "axis": {"values": [-1, -0.5, 0, 0.5, 1], "format": ".1f", "zindex": 1}},
                "x2": {"field": "x1"},
                "y2": {"field": "y1"}
              }
            },
            {
              "data": {"name": "cells"},
              "mark": {"type": "circle", "size": 78, "opacity": 0.75},
              "encoding": {
                "x": {"field": "x", "type": "quantitative", "title": "display axis 1"},
                "y": {"field": "y", "type": "quantitative", "title": "display axis 2"},
                "color": {"field": "s", "type": "quantitative", "scale": {"domain": [-0.332, 0.518], "interpolate": "rgb",
                  "range": ["#3b4cc0", "#6282ea", "#8db0fe", "#b8d0f9", "#dddddd", "#f5c4ac", "#f49a7b", "#de604d", "#b40426"]}, "legend": null}
              }
            },
            {
              "data": {"name": "nodes"},
              "mark": {"type": "text", "align": "left", "baseline": "alphabetic", "fontSize": 28, "font": "DejaVu Sans", "color": "black"},
              "encoding": {
                "x": {"field": "x", "type": "quantitative", "title": "display axis 1"},
                "y": {"field": "y", "type": "quantitative", "title": "display axis 2"},
                "text": {"field": "label"}
              }
            }
          ]
        },
        {
          "width": 42, "height": 844,
          "data": {"values": [{"lo": -0.332, "hi": 0.518}]},
          "mark": {
            "type": "rect", "stroke": "black", "strokeWidth": 2, "fillOpacity": 0.75,
            "fill": {"gradient": "linear", "x1": 0, "y1": 1, "x2": 0, "y2": 0, "stops": [
              {"offset": 0, "color": "#3b4cc0"}, {"offset": 0.125, "color": "#6282ea"},
              {"offset": 0.25, "color": "#8db0fe"}, {"offset": 0.375, "color": "#b8d0f9"},
              {"offset": 0.5, "color": "#dddddd"}, {"offset": 0.625, "color": "#f5c4ac"},
              {"offset": 0.75, "color": "#f49a7b"}, {"offset": 0.875, "color": "#de604d"},
              {"offset": 1, "color": "#b40426"}]}
          },
          "encoding": {
            "y": {"field": "lo", "type": "quantitative", "scale": {"domain": [-0.332, 0.518], "nice": false, "zero": false},
                  "axis": {"orient": "right", "grid": false, "values": [-0.3, -0.2, -0.1, 0, 0.1, 0.2, 0.3, 0.4, 0.5], "format": ".1f",
                           "title": "Signed ordering progression", "titleAngle": 270, "titleBaseline": "top"}},
            "y2": {"field": "hi"}
          }
        }
      ]
    }
  ]
}
